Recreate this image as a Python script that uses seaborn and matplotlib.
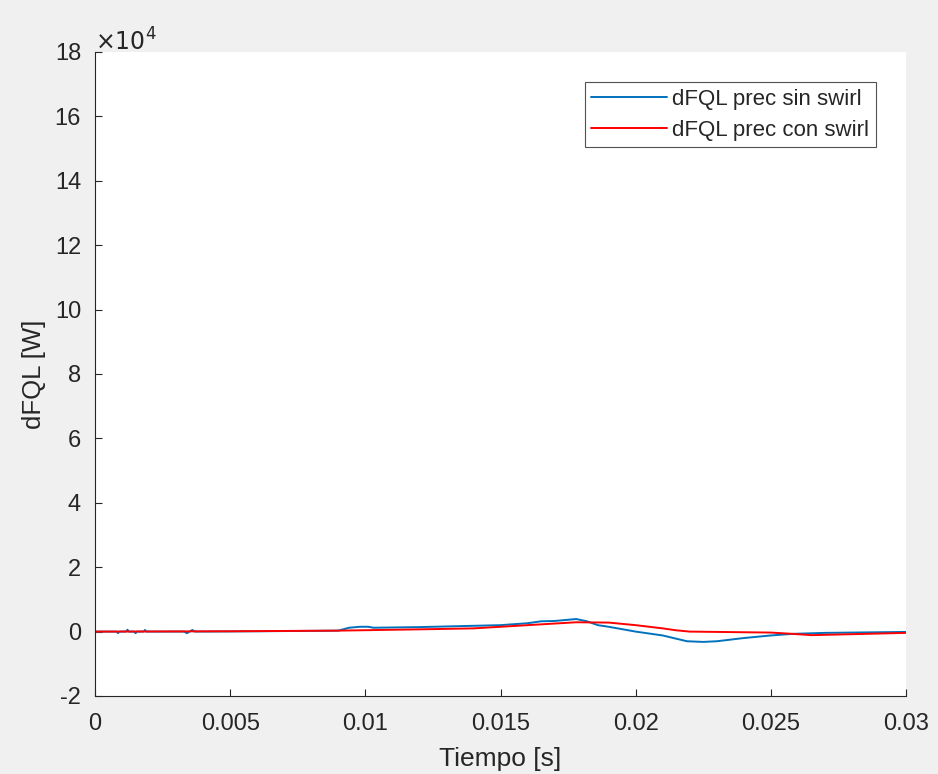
import matplotlib
matplotlib.use("Agg")
import matplotlib.pyplot as plt
import seaborn as sns
import pandas as pd

# Data (W)
t_sin = [0.0, 0.0008, 0.00085, 0.0009, 0.00115, 0.0012, 0.00125, 0.00145, 0.0015, 0.00155,
         0.0018, 0.00185, 0.0019, 0.0033, 0.0034, 0.0035, 0.0036, 0.0037, 0.006, 0.009,
         0.0094, 0.0098, 0.0101, 0.0103, 0.012, 0.014, 0.015, 0.016, 0.0165, 0.017, 0.0178,
         0.0182, 0.0186, 0.019, 0.020, 0.021, 0.0219, 0.0225, 0.023, 0.024, 0.025, 0.0258,
         0.027, 0.028, 0.029, 0.030]
q_sin = [0, 0, -500, 0, 0, 600, 0, 0, -500, 0,
         0, 500, 0, 0, -500, 0, 500, 0, 100, 300,
         1200, 1500, 1500, 1200, 1400, 1800, 2000, 2600, 3200, 3300, 3900,
         3200, 2000, 1500, 0, -1200, -3000, -3200, -3000, -2000, -1200, -700,
         -400, -300, -200, -100]
t_con = [0.0, 0.005, 0.009, 0.012, 0.014, 0.015, 0.016, 0.017, 0.0178, 0.019, 0.020,
         0.021, 0.0215, 0.022, 0.023, 0.024, 0.025, 0.0258, 0.0265, 0.027, 0.028, 0.029, 0.030]
q_con = [0, 100, 300, 700, 1000, 1500, 2000, 2500, 2900, 2800, 2000,
         1000, 400, 0, -100, -200, -300, -700, -1100, -1000, -800, -600, -400]
labels = ["dFQL prec sin swirl", "dFQL prec con swirl"]
x_ticks = [0, 0.005, 0.01, 0.015, 0.02, 0.025, 0.03]
x_ticklabels = ["0", "0.005", "0.01", "0.015", "0.02", "0.025", "0.03"]
y_ticks = [-2, 0, 2, 4, 6, 8, 10, 12, 14, 16, 18]

df = pd.concat([
    pd.DataFrame({"t": t_sin, "q": [v / 1e4 for v in q_sin], "serie": labels[0]}),
    pd.DataFrame({"t": t_con, "q": [v / 1e4 for v in q_con], "serie": labels[1]}),
])

sns.set_style("white")
plt.rcParams['font.family'] = ['Liberation Sans', 'DejaVu Sans']
txt = "#262626"

fig = plt.figure(figsize=(9.38, 7.74), dpi=100, facecolor="#f0f0f0")
ax = fig.add_axes([95 / 938, 1 - 696 / 774, (906 - 95) / 938, (696 - 52) / 774])
ax.set_facecolor("white")

sns.lineplot(data=df, x="t", y="q", hue="serie", palette=["#0072BD", "#FF0000"],
             ax=ax, linewidth=1.4, sort=False, estimator=None)

ax.set_xlim(0, 0.03)
ax.set_ylim(-2, 18)
ax.set_xticks(x_ticks)
ax.set_xticklabels(x_ticklabels)
ax.set_yticks(y_ticks)
ax.set_yticklabels([str(v) for v in y_ticks])
ax.tick_params(direction="in", length=5, labelsize=17, colors=txt, width=0.8,
               top=False, right=False, left=True, bottom=True)
ax.tick_params(axis="y", pad=10)
ax.tick_params(axis="x", pad=12)
for s in ["top", "right"]:
    ax.spines[s].set_visible(False)
for s in ["left", "bottom"]:
    ax.spines[s].set_color(txt)
    ax.spines[s].set_linewidth(0.8)

ax.set_xlabel("Tiempo [s]", fontsize=19, color=txt, labelpad=9)
ax.set_ylabel("dFQL [W]", fontsize=18.5, color=txt, labelpad=6)
ax.text(0.0, 0.994, r"$\times10^{4}$", transform=ax.transAxes, fontsize=17,
        color=txt, ha="left", va="bottom")

leg = ax.legend(loc="upper right", bbox_to_anchor=((876 - 95) / 811, 1 - 30 / 644),
                frameon=True, fancybox=False, fontsize=16, handlelength=3.4,
                borderpad=0.3, labelspacing=0.45, handletextpad=0.25, borderaxespad=0)
leg.get_frame().set_edgecolor(txt)
leg.get_frame().set_linewidth(0.8)
leg.set_title(None)

fig.savefig("out.png", dpi=100, facecolor=fig.get_facecolor())
